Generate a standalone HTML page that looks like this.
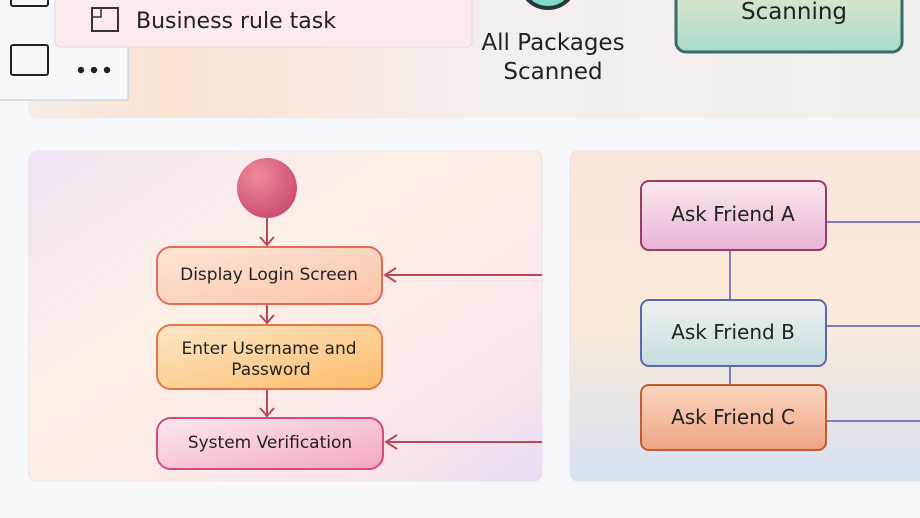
<!DOCTYPE html>
<html><head><style>body{margin:0;background:#f6f7fa;}svg{display:block}text{font-family:"DejaVu Sans","Liberation Sans",sans-serif}</style></head><body>
<svg width="920" height="518" viewBox="0 0 920 518" xmlns="http://www.w3.org/2000/svg">
<defs>
<linearGradient id="top" x1="0" y1="0" x2="1" y2="0"><stop offset="0" stop-color="#f3ece8"/><stop offset="0.15" stop-color="#fbe3d2"/><stop offset="0.5" stop-color="#f5eeee"/><stop offset="1" stop-color="#eef0ee"/></linearGradient>
<linearGradient id="lp" x1="0" y1="0" x2="1" y2="1"><stop offset="0" stop-color="#f0e4f5"/><stop offset="0.4" stop-color="#fdf0e6"/><stop offset="0.8" stop-color="#fbe6ea"/><stop offset="1" stop-color="#e6dcf3"/></linearGradient>
<linearGradient id="rp" x1="0" y1="0" x2="0" y2="1"><stop offset="0" stop-color="#fbe4dc"/><stop offset="0.5" stop-color="#fbead8"/><stop offset="1" stop-color="#d6e2f2"/></linearGradient>
<linearGradient id="b1" x1="0" y1="0" x2="1" y2="1"><stop offset="0" stop-color="#fde7d6"/><stop offset="1" stop-color="#fbc3a8"/></linearGradient>
<linearGradient id="b2" x1="0" y1="0" x2="1" y2="1"><stop offset="0" stop-color="#fde7c8"/><stop offset="1" stop-color="#fbbc6a"/></linearGradient>
<linearGradient id="b3" x1="0" y1="0" x2="1" y2="1"><stop offset="0" stop-color="#fce8ef"/><stop offset="1" stop-color="#f3a8c0"/></linearGradient>
<linearGradient id="fa" x1="0" y1="0" x2="0" y2="1"><stop offset="0" stop-color="#fbe8f0"/><stop offset="1" stop-color="#e8b4d4"/></linearGradient>
<linearGradient id="fb" x1="0" y1="0" x2="0" y2="1"><stop offset="0" stop-color="#eef1ee"/><stop offset="1" stop-color="#c5dde0"/></linearGradient>
<linearGradient id="fc" x1="0" y1="0" x2="0" y2="1"><stop offset="0" stop-color="#fbd6c0"/><stop offset="1" stop-color="#eea584"/></linearGradient>
<linearGradient id="sc" x1="0" y1="0" x2="0" y2="1"><stop offset="0" stop-color="#e6e8c8"/><stop offset="1" stop-color="#a8dccd"/></linearGradient>
<radialGradient id="ci" cx="0.35" cy="0.3" r="0.8"><stop offset="0" stop-color="#ee8a9a"/><stop offset="1" stop-color="#c84870"/></radialGradient>
</defs>
<rect x="28" y="-10" width="900" height="128" rx="8" fill="url(#top)"/>
<rect x="-5" y="-5" width="133" height="105" fill="#f7f8fb" stroke="#b8c6e0"/>
<rect x="11" y="-10" width="37" height="16" rx="2" fill="none" stroke="#222" stroke-width="2"/>
<rect x="11" y="45" width="37" height="30" rx="2" fill="none" stroke="#222" stroke-width="2"/>
<circle cx="81" cy="70" r="3.2" fill="#222"/><circle cx="94" cy="70" r="3.2" fill="#222"/><circle cx="107" cy="70" r="3.2" fill="#222"/>
<rect x="55" y="-10" width="417" height="57" rx="5" fill="#fbeceb" stroke="#e5d6d6"/>
<path d="M92 8 H118 V31 H92 Z" fill="none" stroke="#333" stroke-width="2" stroke-dasharray="0"/>
<path d="M101 8 V17 H92" fill="none" stroke="#333" stroke-width="1.5"/>
<text x="136" y="28" font-size="22" fill="#222">Business rule task</text>
<circle cx="548" cy="-20" r="28" fill="#7fd8c8" stroke="#2a3a3a" stroke-width="4"/>
<text x="553" y="50" font-size="23" text-anchor="middle" fill="#222">All Packages</text>
<text x="553" y="79" font-size="23" text-anchor="middle" fill="#222">Scanned</text>
<rect x="676" y="-20" width="226" height="72" rx="10" fill="url(#sc)" stroke="#3a6a68" stroke-width="3"/>
<text x="794" y="19" font-size="23" text-anchor="middle" fill="#222">Scanning</text>
<rect x="29" y="151" width="513" height="330" rx="8" fill="url(#lp)" stroke="#e8e2ea"/>
<circle cx="267" cy="188" r="30" fill="url(#ci)"/>
<g stroke="#b84a58" stroke-width="2" fill="none">
<path d="M267 218 V245 M260 237 L267 245 L274 237"/>
<path d="M267 304 V323 M260 315 L267 323 L274 315"/>
<path d="M267 389 V416 M260 408 L267 416 L274 408"/>
<path d="M542 275 H385 M396 268 L385 275 L396 282"/>
<path d="M542 442 H386 M397 435 L386 442 L397 449"/>
</g>
<rect x="157" y="247" width="225" height="57" rx="14" fill="url(#b1)" stroke="#e06c5c" stroke-width="2"/>
<text x="269" y="280" font-size="17" text-anchor="middle" fill="#222">Display Login Screen</text>
<rect x="157" y="325" width="225" height="64" rx="14" fill="url(#b2)" stroke="#e0784a" stroke-width="2"/>
<text x="269" y="354" font-size="17" text-anchor="middle" fill="#222">Enter Username and</text>
<text x="271" y="375" font-size="17" text-anchor="middle" fill="#222">Password</text>
<rect x="157" y="418" width="226" height="51" rx="14" fill="url(#b3)" stroke="#d84a78" stroke-width="2"/>
<text x="270" y="448" font-size="17" text-anchor="middle" fill="#222">System Verification</text>
<rect x="570" y="151" width="360" height="330" rx="8" fill="url(#rp)" stroke="#e6e0ea"/>
<g stroke="#5a5ab0" stroke-width="1.5" fill="none">
<path d="M730 250 V300 M730 366 V385 M826 222 H920 M826 326 H920 M826 421 H920"/>
</g>
<rect x="641" y="181" width="185" height="69" rx="8" fill="url(#fa)" stroke="#9a3a6a" stroke-width="2"/>
<text x="733" y="221" font-size="20" text-anchor="middle" fill="#222">Ask Friend A</text>
<rect x="641" y="300" width="185" height="66" rx="8" fill="url(#fb)" stroke="#5a6aa8" stroke-width="2"/>
<text x="733" y="339" font-size="20" text-anchor="middle" fill="#222">Ask Friend B</text>
<rect x="641" y="385" width="185" height="65" rx="8" fill="url(#fc)" stroke="#c85a30" stroke-width="2"/>
<text x="733" y="424" font-size="20" text-anchor="middle" fill="#222">Ask Friend C</text>
</svg>
</body></html>
